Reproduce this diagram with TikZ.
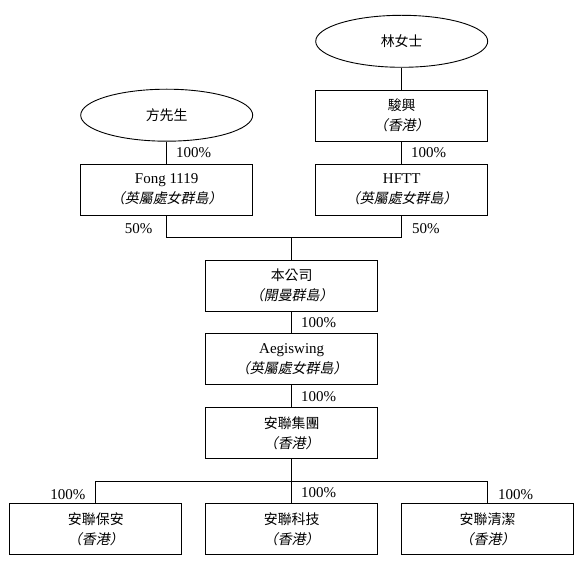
\documentclass[tikz,border=0pt]{standalone}
\usepackage{fontspec}
\setmainfont{Liberation Serif}
\newfontfamily\cjk{Noto Sans CJK TC}[Scale=0.93]
\newfontfamily\cjkit{Noto Sans CJK TC}[Scale=0.93, FakeSlant=0.2, RawFeature=+halt]
\usetikzlibrary{shapes.geometric, positioning}

\newcommand{\juris}[1]{{\cjkit （#1）}}

\begin{document}
\begin{tikzpicture}[x=1pt, y=1pt, node distance=22pt, line width=0.9pt,
    entity/.style={draw, rectangle, minimum width=172pt, minimum height=51pt,
      inner sep=0pt, align=center, font=\fontsize{15}{20}\selectfont},
    owner/.style={draw, ellipse, minimum width=172pt, minimum height=52pt,
      inner sep=0pt, font=\fontsize{15}{20}\selectfont\cjk},
    share/.style={font=\fontsize{15}{18}\selectfont, inner sep=2pt}]

    \useasboundingbox (0,0) rectangle (580,-561);

    \node[entity] (company) at (291.7,-285.5) {{\cjk 本公司}\\\juris{開曼群島}};

    \node[entity, below=of company] (aegis) {Aegiswing\\\juris{英屬處女群島}};

    \node[entity, below=of aegis] (group) {{\cjk 安聯集團}\\\juris{香港}};

    \node[entity, below=44pt of group] (tech) {{\cjk 安聯科技}\\\juris{香港}};

    \node[entity, left=23pt of tech] (guard) {{\cjk 安聯保安}\\\juris{香港}};

    \node[entity, right=23pt of tech] (clean) {{\cjk 安聯清潔}\\\juris{香港}};

    \node[entity, above=44pt of company, xshift=-125pt] (fong) {Fong 1119\\\juris{英屬處女群島}};

    \node[entity, above=44pt of company, xshift=110pt] (hftt) {HFTT\\\juris{英屬處女群島}};

    \node[owner, above=of fong] (fang) {方先生};

    \node[entity, above=of hftt] (junxing) {{\cjk 駿興}\\\juris{香港}};

    \node[owner, above=of junxing] (lin) {林女士};

    \coordinate[above=22pt of company] (join);
    \coordinate[below=22pt of group] (split);

    \draw (fang) -- (fong) node[share, midway, right=7pt] {100\%};
    \draw (lin) -- (junxing);
    \draw (junxing) -- (hftt) node[share, midway, right=7pt] {100\%};
    \draw (fong) |- (join) node[share, pos=0.3, left=12pt] {50\%};
    \draw (hftt) |- (join) node[share, pos=0.3, right=8pt] {50\%};
    \draw (join) -- (company);
    \draw (company) -- (aegis) node[share, midway, right=7pt] {100\%};
    \draw (aegis) -- (group) node[share, midway, right=7pt] {100\%};
    \draw (group) -- (split);
    \draw (split) -| (guard) node[share, pos=0.8, left=8pt] {100\%};
    \draw (split) -- (tech) node[share, midway, right=7pt] {100\%};
    \draw (split) -| (clean) node[share, pos=0.8, right=8pt] {100\%};

\end{tikzpicture}
\end{document}
